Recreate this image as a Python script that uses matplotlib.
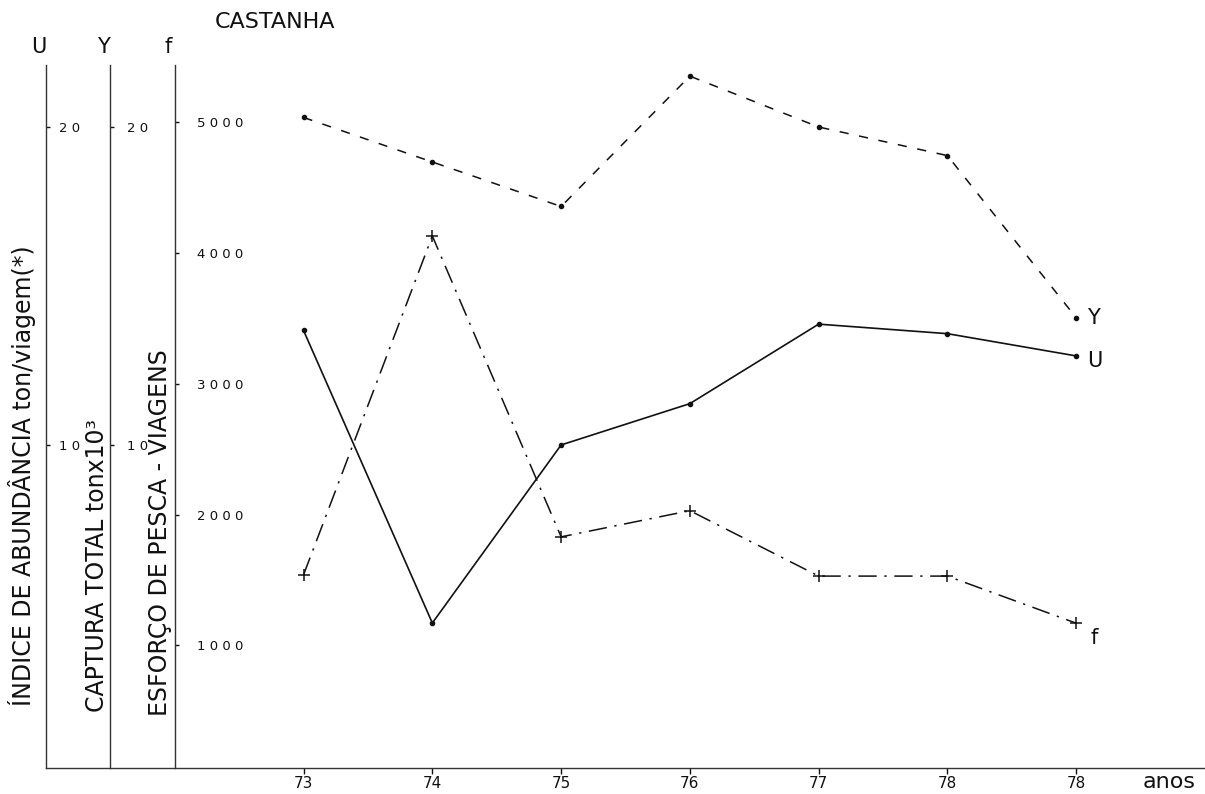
import matplotlib
matplotlib.use("Agg")
import matplotlib.pyplot as plt

# ---- data ----
years = [73, 74, 75, 76, 77, 78, 79]
year_labels = ["73", "74", "75", "76", "77", "78", "78"]
U_vals = [13.6, 4.4, 10.0, 11.3, 13.8, 13.5, 12.8]          # ton/viagem
Y_vals = [20.3, 18.9, 17.5, 21.6, 20.0, 19.1, 14.0]         # ton x 10^3
f_vals = [1540, 4130, 1830, 2030, 1530, 1530, 1170]         # viagens
U_ticks = [10, 20]
Y_ticks = [10, 20]
f_ticks = [1000, 2000, 3000, 4000, 5000]

FONT = ["DejaVu Sans"]
INK = "#111111"

W, H = 1205, 794
fig = plt.figure(figsize=(W / 100, H / 100), dpi=100)
left_px, right_px, top_px, bot_px = 46, 1205, 65, 768
ax = fig.add_axes([left_px / W, 1 - bot_px / H, (right_px - left_px) / W,
                   (bot_px - top_px) / H])
ax.set_xlim(71.0, 80.0)
ax.set_ylim(0, 1)
for s in ["top", "right", "left"]:
    ax.spines[s].set_visible(False)
ax.spines["bottom"].set_color("#333333")
ax.spines["bottom"].set_linewidth(1.0)
ax.set_yticks([])
ax.set_xticks(years)
ax.set_xticklabels(year_labels, family=FONT, fontsize=11)
ax.tick_params(axis="x", direction="out", length=4, width=1, pad=1.5,
               colors=INK)


def spaced(v):
    return " ".join(str(int(v)))


def make_axis(pos, ylim, ticks, pad):
    a = ax.twinx()
    a.set_ylim(*ylim)
    for s in ["top", "left", "bottom"]:
        a.spines[s].set_visible(False)
    a.spines["right"].set_position(("axes", pos))
    a.spines["right"].set_color("#333333")
    a.spines["right"].set_linewidth(1.0)
    a.yaxis.set_ticks_position("right")
    a.set_yticks(ticks)
    a.set_yticklabels([spaced(t) for t in ticks], family=FONT, fontsize=9.5,
                      color=INK)
    a.tick_params(axis="y", direction="out", length=3, width=1, pad=pad,
                  colors=INK)
    return a


span = right_px - left_px
U_pos, Y_pos, f_pos = 0.0, (110 - left_px) / span, (175 - left_px) / span
axU = make_axis(U_pos, (-0.16, 21.95), U_ticks, 6)
axY = make_axis(Y_pos, (-0.16, 21.95), Y_ticks, 9)
axF = make_axis(f_pos, (63, 5437), f_ticks, 13)

# ---- series ----
axY.plot(years, Y_vals, color=INK, lw=1.1, linestyle=(0, (6, 7)),
         marker="o", ms=3, mfc=INK, mec=INK)
axU.plot(years, U_vals, color=INK, lw=1.2, linestyle="-",
         marker="o", ms=3, mfc=INK, mec=INK)
axF.plot(years, f_vals, color=INK, lw=1.1, linestyle=(0, (12, 5, 1.5, 5)),
         marker="+", ms=8, mew=1.1, mec=INK)

# end labels
axY.annotate("Y", (years[-1], Y_vals[-1]), xytext=(8, 0),
             textcoords="offset points", ha="left", va="center",
             family=FONT, fontsize=15, color=INK)
axU.annotate("U", (years[-1], U_vals[-1]), xytext=(8, -4),
             textcoords="offset points", ha="left", va="center",
             family=FONT, fontsize=15, color=INK)
axF.annotate("f", (years[-1], f_vals[-1]), xytext=(10, -11),
             textcoords="offset points", ha="left", va="center",
             family=FONT, fontsize=15, color=INK)

# axis header letters
for pos, lab in [(U_pos, "U"), (Y_pos, "Y"), (f_pos, "f")]:
    ax.annotate(lab, (pos, 1.0), xycoords="axes fraction", xytext=(-5, 6),
                textcoords="offset points", ha="center", va="bottom",
                family=FONT, fontsize=15, color=INK)

# rotated axis titles
fig.text(22 / W, 1 - 476 / H, "ÍNDICE DE ABUNDÂNCIA ton/viagem(*)",
         rotation=90, ha="center", va="center", family=FONT, fontsize=17,
         color=INK)
fig.text(97 / W, 1 - 565 / H, "CAPTURA TOTAL tonx10³",
         rotation=90, ha="center", va="center", family=FONT, fontsize=17,
         color=INK)
fig.text(160 / W, 1 - 533 / H, "ESFORÇO DE PESCA - VIAGENS",
         rotation=90, ha="center", va="center", family=FONT, fontsize=17,
         color=INK)

fig.text(275 / W, 1 - 22 / H, "CASTANHA", ha="center", va="center",
         family=FONT, fontsize=16, color=INK)
fig.text(1143 / W, 1 - 782 / H, "anos", ha="left", va="center",
         family=FONT, fontsize=16, color=INK)

fig.savefig("out.png", dpi=100)
